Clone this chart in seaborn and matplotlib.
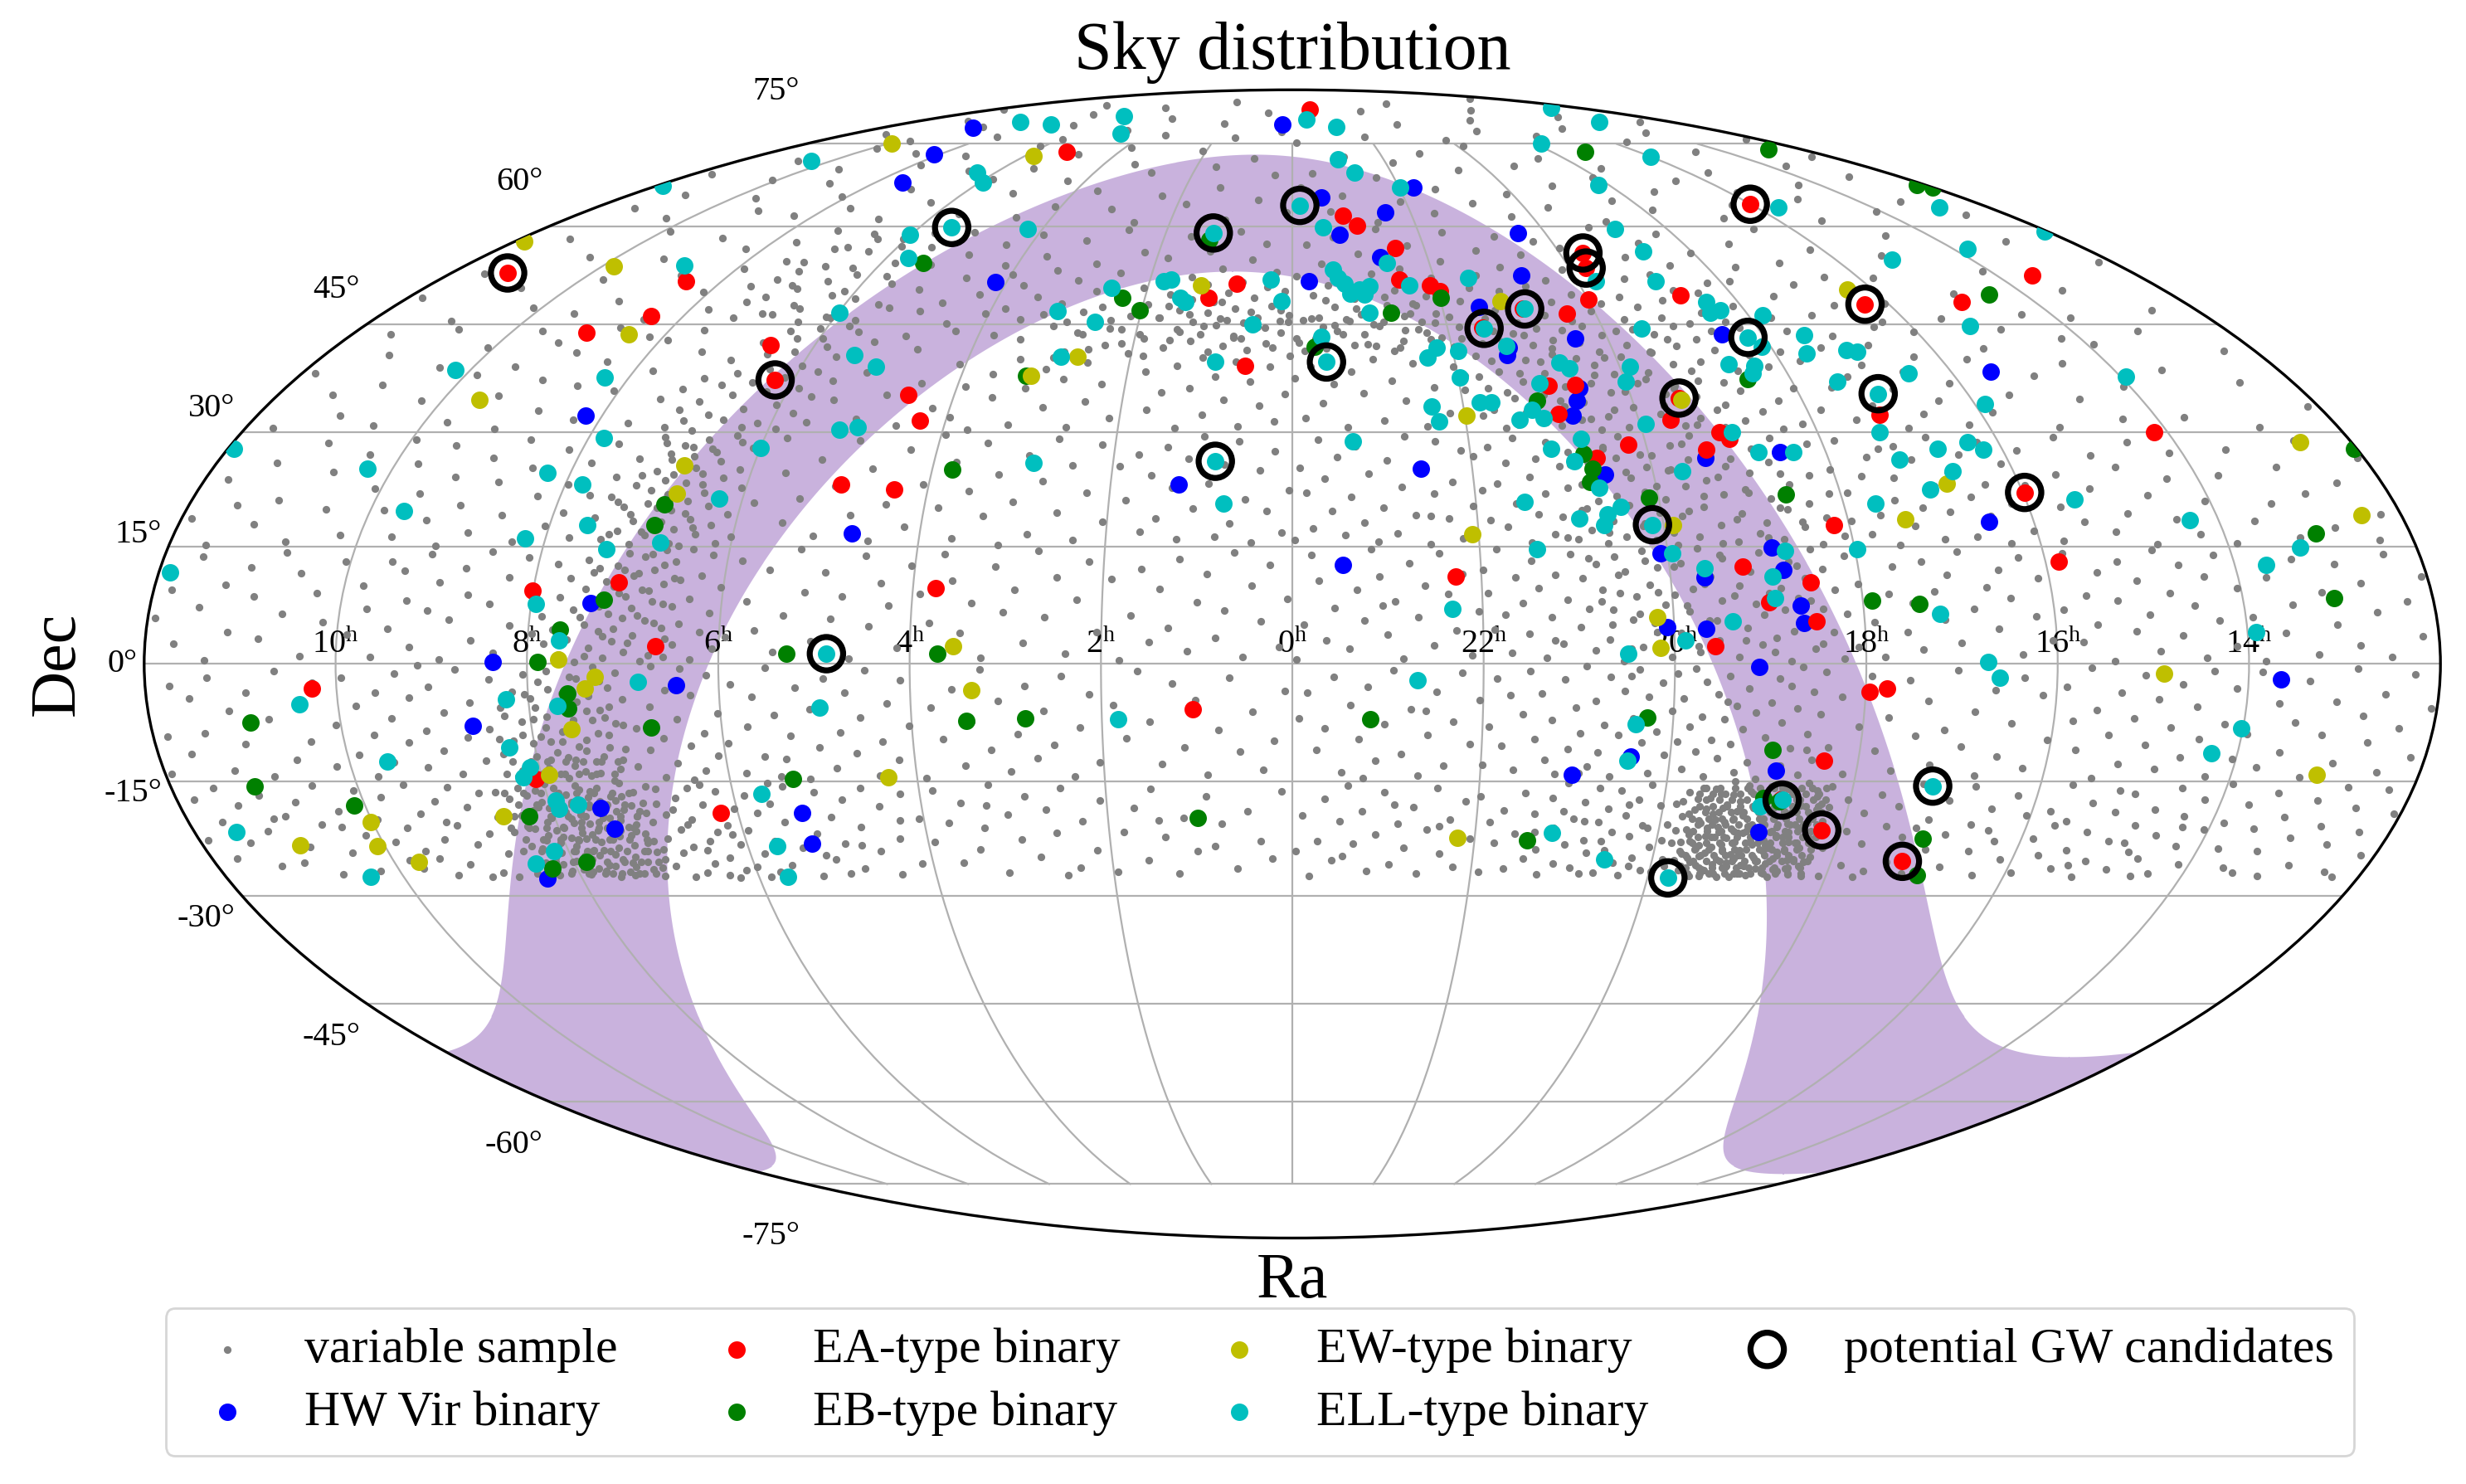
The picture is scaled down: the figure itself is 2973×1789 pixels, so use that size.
import numpy as np
import pandas as pd
import matplotlib
matplotlib.use("Agg")
import matplotlib.pyplot as plt
import seaborn as sns

# All positions are (RA in hours, Dec in degrees).

# --- variable sample (grey dots), split by declination strip ---
sample_dec_m27_m15 = [
    (0.12,-16.3),(0.35,-22.8),(0.48,-18.9),(0.61,-26.4),(0.77,-20.5),(0.93,-16.9),(1.05,-24.1),(1.18,-19.7),(1.27,-27.0),(1.39,-22.2),
    (1.52,-16.0),(1.60,-25.3),(1.71,-18.4),(1.84,-21.6),(1.95,-26.8),(0.22,-25.0),(0.85,-23.4),(1.45,-20.0),
    (2.07,-17.5),(2.15,-23.9),(2.28,-20.1),(2.36,-26.2),(2.49,-15.8),(2.58,-21.7),(2.66,-18.6),(2.79,-24.8),(2.88,-16.9),(2.97,-22.5),
    (3.08,-19.3),(3.17,-26.9),(3.25,-15.4),(3.36,-21.0),(3.44,-23.8),(3.57,-17.8),(3.66,-25.6),(3.74,-20.4),(3.86,-16.2),(3.93,-22.9),
    (2.52,-27.2),(3.30,-18.1),
    (4.05,-19.8),(4.12,-25.7),(4.21,-16.6),(4.30,-22.4),(4.38,-27.1),(4.46,-18.2),(4.55,-24.0),(4.63,-15.9),(4.70,-20.9),(4.78,-26.3),
    (4.85,-17.4),(4.92,-23.1),(5.00,-19.6),(5.07,-25.2),(5.13,-16.4),(5.20,-21.8),(5.27,-27.3),(5.33,-18.8),(5.40,-23.6),(5.46,-15.6),
    (5.52,-20.3),(5.58,-25.9),(5.63,-17.9),(5.69,-22.7),(5.74,-26.8),(5.79,-19.1),(5.84,-24.4),(5.89,-16.8),(5.94,-21.3),(5.98,-26.1),
    (4.26,-20.0),(4.74,-23.3),(5.17,-24.6),(5.61,-15.2),(5.86,-27.4),(4.95,-27.0),
    (6.03,-18.5),(6.07,-23.2),(6.11,-26.6),(6.15,-20.7),(6.19,-16.3),(6.24,-24.9),(6.28,-21.6),(6.32,-27.2),(6.36,-18.0),(6.40,-22.8),
    (6.44,-25.7),(6.48,-15.8),(6.52,-19.9),(6.56,-26.9),(6.60,-23.5),(6.63,-17.1),(6.67,-21.2),(6.71,-27.4),(6.74,-24.3),(6.78,-19.3),
    (6.82,-16.0),(6.85,-22.4),(6.88,-26.0),(6.21,-27.6),(6.46,-23.9),(6.69,-18.6),(6.34,-15.4),(6.58,-20.6),(6.86,-17.9),(6.13,-21.9),
    (6.92,-15.6),(6.95,-20.3),(6.97,-25.1),(7.00,-17.8),(7.02,-22.7),(7.05,-27.3),(7.07,-16.4),(7.10,-19.5),(7.12,-24.0),(7.15,-26.5),
    (7.17,-21.4),(7.20,-15.2),(7.22,-18.6),(7.25,-23.3),(7.27,-27.0),(7.30,-20.0),(7.32,-16.9),(7.35,-25.6),(7.37,-22.1),(7.40,-18.2),
    (7.42,-26.8),(7.45,-15.9),(7.47,-21.0),(7.50,-24.5),(7.52,-19.0),(7.55,-27.4),(7.57,-17.0),(7.60,-22.9),(7.62,-25.9),(7.65,-20.5),
    (7.67,-15.5),(7.70,-18.9),(7.72,-23.9),(7.75,-26.3),(7.77,-21.7),(7.80,-16.7),(7.82,-19.8),(7.85,-24.7),(7.87,-27.1),(7.90,-22.3),
    (7.92,-17.4),(7.95,-20.9),(7.97,-25.4),(8.00,-15.3),(8.02,-18.4),(8.05,-23.0),(8.07,-26.7),(8.10,-20.2),(8.12,-16.2),(8.15,-22.0),
    (8.18,-24.9),(8.20,-18.7),(8.23,-27.2),(8.26,-21.1),(8.29,-15.8),(8.32,-25.6),(8.35,-19.4),(8.38,-23.4),(8.42,-17.2),(8.46,-26.2),
    (8.50,-21.5),(8.55,-16.4),
    (7.03,-24.2),(7.13,-18.1),(7.23,-20.9),(7.33,-26.1),(7.43,-23.6),(7.53,-16.3),(7.63,-27.0),(7.73,-20.2),(7.83,-22.6),(7.93,-26.5),
    (8.03,-21.3),(8.13,-25.8),(8.22,-16.8),(8.33,-20.8),(7.08,-21.8),(7.28,-17.5),(7.48,-19.7),(7.68,-24.6),(7.88,-18.1),(8.08,-17.7),
    (8.28,-23.7),(7.58,-21.3),(7.78,-25.2),(7.98,-19.1),
    (8.62,-19.6),(8.68,-24.4),(8.73,-16.5),(8.79,-21.8),(8.85,-26.9),(8.91,-18.3),(8.97,-23.2),(9.04,-15.7),(9.10,-20.7),(9.17,-25.8),
    (9.23,-17.6),(9.30,-22.5),(9.37,-27.2),(9.44,-19.2),(9.51,-15.4),(9.58,-24.0),(9.65,-21.0),(9.72,-26.4),(9.79,-17.0),(9.86,-22.9),
    (9.93,-19.9),(9.00,-27.5),(8.70,-27.4),(9.47,-25.0),(9.82,-25.3),(9.20,-20.3),
    (10.06,-16.2),(10.15,-22.0),(10.22,-26.7),(10.31,-18.8),(10.40,-24.3),(10.48,-15.5),(10.57,-20.6),(10.66,-27.1),(10.74,-17.7),(10.83,-23.5),
    (10.92,-19.5),(11.01,-25.6),(11.10,-16.8),(11.19,-21.4),(11.28,-26.0),(11.37,-18.1),(11.46,-23.0),(11.55,-15.9),(11.63,-20.2),(11.72,-25.0),
    (11.81,-17.3),(11.90,-22.6),(10.36,-20.9),(11.05,-19.8),
    (12.07,-19.2),(12.16,-24.6),(12.25,-16.1),(12.34,-21.5),(12.43,-26.8),(12.52,-18.4),(12.61,-23.2),(12.70,-15.7),(12.79,-20.8),(12.88,-25.9),
    (12.97,-17.5),(13.06,-22.3),(13.15,-27.3),(13.24,-19.6),(13.33,-24.1),(13.42,-16.5),(13.51,-21.1),(13.60,-26.2),(13.69,-18.0),(13.78,-23.7),
    (13.87,-20.4),(13.95,-15.3),(12.30,-27.5),(13.46,-26.9),
    (14.05,-21.2),(14.12,-25.8),(14.19,-17.3),(14.26,-23.4),(14.33,-19.5),(14.40,-27.0),(14.47,-15.9),(14.54,-22.0),(14.61,-25.0),(14.68,-18.6),
    (14.75,-24.2),(14.82,-20.7),(14.89,-26.5),(14.96,-16.6),(15.03,-22.8),(15.10,-19.0),(15.17,-25.4),(15.24,-27.4),(15.31,-21.6),(15.38,-17.8),
    (15.45,-23.9),(15.52,-26.3),(15.59,-20.1),(15.66,-15.4),(15.73,-24.6),(15.80,-18.9),(15.87,-22.4),(15.94,-26.9),(14.30,-20.9),(14.85,-23.0),
    (15.35,-25.9),(15.70,-20.7),(14.58,-27.3),(15.13,-16.2),
    (16.05,-19.4),(16.13,-25.2),(16.21,-16.8),(16.29,-22.7),(16.37,-27.2),(16.45,-18.5),(16.53,-24.0),(16.61,-20.6),(16.69,-15.6),(16.77,-26.1),
    (16.85,-21.9),(16.93,-17.5),(17.01,-23.8),(17.09,-19.9),(17.17,-27.0),(17.25,-15.3),(17.32,-22.2),(17.39,-25.5),(17.46,-18.2),(17.53,-20.8),
    (17.60,-26.7),(17.67,-16.7),(17.74,-23.1),(17.81,-19.1),(17.88,-25.9),(17.95,-21.4),(18.02,-17.3),(18.09,-27.3),(18.15,-23.6),(17.20,-21.0),
    (16.40,-21.3),(17.70,-27.4),
    (18.22,-15.6),(18.24,-20.1),(18.26,-24.8),(18.28,-27.3),(18.30,-17.9),(18.32,-22.4),(18.35,-26.0),(18.37,-16.2),(18.39,-19.3),(18.41,-23.6),
    (18.44,-27.1),(18.46,-21.0),(18.48,-15.2),(18.50,-25.3),(18.52,-18.1),(18.55,-22.9),(18.57,-26.7),(18.59,-16.8),(18.61,-20.5),(18.64,-24.2),
    (18.66,-27.5),(18.68,-18.8),(18.70,-22.0),(18.73,-25.7),(18.75,-15.9),(18.77,-19.7),(18.79,-23.3),(18.82,-26.4),(18.84,-17.3),(18.86,-21.4),
    (18.88,-24.9),(18.91,-27.2),(18.93,-16.5),(18.95,-19.0),(18.97,-22.7),(19.00,-25.9),(19.02,-18.4),(19.04,-20.8),(19.06,-23.9),(19.09,-27.4),
    (19.11,-15.5),(19.13,-21.7),(19.15,-24.5),(19.18,-17.6),(19.20,-26.2),(19.22,-19.9),(19.24,-22.3),(19.27,-15.0),(19.29,-25.1),(19.31,-18.0),
    (19.33,-27.0),(19.36,-20.9),(19.38,-23.5),(19.40,-16.6),(19.42,-26.5),(19.45,-19.2),(19.47,-22.1),(19.49,-24.7),(19.51,-17.1),(19.54,-27.3),
    (19.56,-20.4),(19.58,-25.5),(19.60,-15.8),(19.63,-22.8),(19.65,-18.6),(19.67,-26.0),(19.70,-21.2),(19.72,-24.0),(19.74,-16.4),(19.77,-19.5),
    (19.80,-27.1),(19.83,-23.0),(19.86,-17.9),(19.89,-25.2),(19.92,-20.6),(19.95,-22.6),(19.98,-26.8),
    (18.25,-22.0),(18.34,-18.6),(18.43,-25.2),(18.53,-20.6),(18.62,-26.5),(18.71,-17.0),(18.80,-24.0),(18.89,-19.8),(18.98,-27.0),(19.07,-21.7),
    (19.16,-26.0),(19.25,-24.0),(19.34,-21.5),(19.43,-27.3),(19.52,-23.3),(19.61,-26.5),(19.69,-24.4),(18.58,-21.6),(18.78,-21.5),(19.10,-25.0),
    (20.03,-18.1),(20.07,-23.5),(20.11,-26.6),(20.15,-15.4),(20.19,-20.7),(20.23,-24.9),(20.27,-17.3),(20.31,-22.1),(20.35,-27.2),(20.39,-19.4),
    (20.43,-25.6),(20.47,-16.2),(20.51,-21.5),(20.55,-23.9),(20.59,-18.5),(20.63,-26.9),(20.67,-20.2),(20.71,-15.8),(20.75,-24.3),(20.80,-22.6),
    (20.85,-17.7),(20.90,-26.2),(20.95,-19.8),(21.00,-23.2),(21.05,-15.2),(21.10,-25.7),(21.15,-21.0),(21.20,-17.1),(21.26,-27.1),(21.32,-23.8),
    (21.38,-19.2),(21.44,-25.0),(21.50,-16.5),(21.57,-21.8),(21.64,-26.4),(21.71,-18.7),(21.78,-23.0),(21.85,-20.3),(21.92,-26.8),(21.98,-16.9),
    (20.13,-21.0),(20.37,-18.0),(20.61,-22.8),(20.83,-20.1),(21.07,-18.8),(20.25,-26.0),(20.79,-27.0),(21.35,-21.5),
    (22.05,-22.4),(22.13,-17.6),(22.21,-26.1),(22.29,-19.9),(22.37,-24.4),(22.45,-15.8),(22.53,-21.2),(22.61,-27.0),(22.69,-18.3),(22.77,-23.6),
    (22.85,-20.5),(22.93,-25.8),(23.01,-16.4),(23.09,-21.9),(23.17,-26.7),(23.25,-18.9),(23.33,-23.1),(23.41,-15.5),(23.49,-20.1),(23.57,-25.3),
    (23.65,-17.2),(23.73,-22.8),(23.81,-27.3),(23.89,-19.4),(23.96,-24.0),(22.40,-20.8),(22.90,-18.0),(23.45,-24.7),
]

sample_dec_m15_0 = [
    (0.08,-3.4),(0.19,-9.8),(0.31,-13.5),(0.42,-6.1),(0.55,-11.2),(0.66,-1.8),(0.78,-8.4),(0.90,-14.1),(1.02,-4.6),(1.14,-10.7),
    (1.26,-2.5),(1.38,-12.8),(1.50,-7.3),(1.62,-0.9),(1.75,-9.5),(1.88,-5.2),
    (2.04,-12.6),(2.13,-3.9),(2.23,-8.1),(2.32,-14.4),(2.42,-1.5),(2.51,-10.3),(2.61,-6.0),(2.70,-12.0),(2.80,-2.8),(2.89,-8.9),
    (2.99,-13.7),(3.08,-4.7),(3.18,-11.0),(3.27,-0.7),(3.37,-7.4),(3.47,-13.0),(3.57,-3.2),(3.68,-9.6),(3.79,-5.5),(3.90,-14.6),
    (4.03,-7.9),(4.10,-2.1),(4.17,-12.3),(4.25,-5.0),(4.32,-9.9),(4.39,-14.2),(4.47,-0.8),(4.54,-6.8),(4.61,-11.4),(4.69,-3.6),
    (4.76,-8.7),(4.84,-13.3),(4.91,-1.9),(4.99,-10.6),(5.06,-5.8),(5.14,-14.7),(5.21,-3.0),(5.29,-9.2),(5.36,-12.1),(5.44,-6.5),
    (5.51,-0.5),(5.59,-11.8),(5.66,-4.2),(5.73,-8.0),(5.81,-13.9),(5.88,-2.6),(5.95,-10.1),(5.45,-14.4),
    (6.03,-6.3),(6.08,-11.7),(6.13,-1.4),(6.19,-8.8),(6.24,-13.6),(6.30,-4.0),(6.35,-10.4),(6.41,-0.6),(6.46,-7.0),(6.52,-12.7),
    (6.57,-3.3),(6.63,-9.5),(6.68,-14.5),(6.74,-5.4),(6.79,-11.0),(6.85,-2.0),(6.90,-8.2),(6.95,-13.1),(6.38,-14.8),(6.71,-0.3),
    (7.02,-4.5),(7.05,-10.9),(7.08,-1.1),(7.11,-7.6),(7.14,-13.4),(7.17,-3.0),(7.20,-9.0),(7.23,-14.9),(7.26,-5.9),(7.29,-11.8),
    (7.32,-0.4),(7.35,-7.1),(7.38,-12.5),(7.41,-2.7),(7.44,-9.7),(7.47,-14.2),(7.50,-4.8),(7.53,-10.5),(7.56,-1.6),(7.59,-7.9),
    (7.62,-13.0),(7.65,-3.8),(7.68,-8.6),(7.71,-14.6),(7.74,-5.2),(7.77,-11.3),(7.80,-0.9),(7.83,-6.7),(7.86,-12.2),(7.89,-2.3),
    (7.92,-9.3),(7.95,-14.0),(7.98,-4.4),(8.01,-10.1),(8.05,-1.3),(8.09,-7.3),(8.13,-12.9),(8.17,-3.5),(8.21,-9.8),(8.25,-14.4),
    (8.30,-5.6),(8.35,-11.5),(8.40,-2.0),(8.45,-8.3),(7.22,-6.8),(7.52,-13.7),(7.82,-9.9),(7.37,-4.1),(7.67,-11.9),(7.97,-7.0),
    (8.55,-12.4),(8.62,-4.9),(8.69,-9.4),(8.76,-0.7),(8.83,-14.0),(8.90,-6.2),(8.97,-11.1),(9.04,-2.9),(9.11,-8.5),(9.18,-13.2),
    (9.25,-4.3),(9.32,-10.0),(9.39,-1.2),(9.46,-6.9),(9.53,-12.6),(9.60,-3.7),(9.67,-9.0),(9.74,-14.3),(9.81,-5.3),(9.88,-11.6),
    (9.95,-1.8),(9.15,-0.2),
    (10.05,-7.8),(10.15,-13.1),(10.25,-2.4),(10.35,-9.9),(10.45,-5.1),(10.55,-12.3),(10.65,-0.9),(10.75,-7.0),(10.85,-14.4),(10.95,-3.6),
    (11.05,-10.2),(11.15,-6.0),(11.25,-13.6),(11.35,-1.7),(11.45,-8.8),(11.55,-4.4),(11.65,-11.5),(11.75,-2.8),(11.85,-9.3),(11.93,-14.0),
    (12.06,-5.7),(12.16,-11.9),(12.26,-1.3),(12.36,-8.2),(12.46,-13.8),(12.56,-3.9),(12.66,-10.0),(12.76,-6.6),(12.86,-0.6),(12.96,-12.7),
    (13.06,-4.8),(13.16,-9.1),(13.26,-14.5),(13.36,-2.2),(13.46,-7.5),(13.56,-11.3),(13.66,-5.0),(13.76,-13.2),(13.86,-1.0),(13.95,-8.9),
    (14.04,-12.1),(14.12,-3.1),(14.20,-7.7),(14.28,-14.3),(14.36,-0.9),(14.44,-9.6),(14.52,-5.4),(14.60,-11.9),(14.68,-2.6),(14.76,-8.1),
    (14.84,-13.4),(14.92,-4.5),(15.00,-10.3),(15.08,-1.4),(15.16,-6.9),(15.24,-12.8),(15.32,-3.7),(15.40,-9.0),(15.48,-14.6),(15.56,-5.9),
    (15.64,-0.5),(15.72,-11.0),(15.80,-7.2),(15.90,-2.9),
    (16.04,-9.7),(16.14,-4.0),(16.24,-13.3),(16.34,-1.8),(16.44,-7.6),(16.54,-11.8),(16.64,-3.3),(16.74,-14.2),(16.84,-6.1),(16.94,-10.5),
    (17.04,-0.8),(17.14,-8.4),(17.24,-12.9),(17.34,-4.7),(17.44,-9.2),(17.54,-2.1),(17.64,-13.6),(17.74,-6.8),(17.84,-11.1),(17.94,-1.5),
    (18.04,-8.0),(18.14,-14.0),(18.24,-4.2),(18.34,-10.6),
    (18.42,-1.0),(18.46,-6.4),(18.50,-12.2),(18.54,-3.5),(18.58,-8.9),(18.62,-14.1),(18.66,-0.4),(18.70,-5.7),(18.74,-10.8),(18.78,-2.8),
    (18.82,-13.0),(18.86,-7.5),(18.90,-1.9),(18.94,-11.5),(18.98,-4.9),(19.02,-9.4),(19.06,-14.7),(19.10,-0.8),(19.14,-6.2),(19.18,-12.6),
    (19.22,-3.1),(19.26,-8.3),(19.30,-13.8),(19.34,-5.3),(19.38,-10.2),(19.42,-1.5),(19.46,-7.0),(19.50,-12.0),(19.54,-3.9),(19.58,-9.7),
    (19.62,-14.4),(19.66,-2.3),(19.70,-6.7),(19.74,-11.2),(19.78,-0.6),(19.82,-8.0),(19.86,-13.4),(19.90,-4.4),(19.94,-9.9),(19.97,-1.2),
    (18.56,-11.0),(19.44,-4.8),
    (20.02,-6.0),(20.07,-11.6),(20.12,-2.4),(20.17,-8.6),(20.22,-13.9),(20.27,-4.2),(20.32,-10.0),(20.37,-0.7),(20.42,-6.9),(20.47,-12.8),
    (20.52,-3.4),(20.57,-9.1),(20.62,-14.3),(20.67,-1.6),(20.72,-7.8),(20.77,-11.3),(20.82,-4.7),(20.87,-13.1),(20.92,-0.3),(20.97,-8.8),
    (21.03,-5.5),(21.09,-10.9),(21.15,-2.0),(21.21,-14.0),(21.27,-7.1),(21.33,-12.3),(21.39,-3.8),(21.45,-9.6),(21.51,-0.9),(21.58,-6.4),
    (21.65,-13.5),(21.72,-4.0),(21.79,-10.4),(21.86,-1.9),(21.93,-8.0),(21.98,-12.9),(20.45,-1.5),(20.95,-13.9),
    (22.04,-4.6),(22.13,-10.2),(22.22,-1.1),(22.31,-7.3),(22.40,-13.0),(22.49,-3.5),(22.58,-9.0),(22.67,-14.2),(22.76,-5.8),(22.85,-11.5),
    (22.94,-0.8),(23.03,-7.7),(23.12,-12.4),(23.21,-2.9),(23.30,-9.6),(23.39,-5.2),(23.48,-13.8),(23.57,-1.6),(23.66,-8.2),(23.75,-11.0),
    (23.84,-3.7),(23.93,-6.9),(22.60,-6.0),(23.25,-14.6),
]

sample_dec_0_15 = [
    (0.05,8.3),(0.14,2.1),(0.24,12.7),(0.33,5.4),(0.43,10.0),(0.52,0.9),(0.62,14.2),(0.71,6.8),(0.81,3.3),(0.90,11.5),
    (1.00,7.9),(1.10,1.6),(1.20,13.4),(1.30,4.6),(1.40,9.6),(1.50,2.8),(1.60,12.1),(1.70,6.2),(1.81,0.5),(1.91,10.8),
    (2.05,4.1),(2.16,13.0),(2.27,8.2),(2.38,1.3),(2.49,11.1),(2.60,5.9),(2.71,14.4),(2.82,2.7),(2.93,9.5),(3.04,6.6),
    (3.15,12.4),(3.26,0.8),(3.37,7.7),(3.48,3.9),(3.59,10.6),(3.70,14.0),(3.81,5.2),(3.92,8.9),
    (4.04,12.6),(4.14,2.0),(4.24,7.4),(4.34,10.3),(4.44,4.8),(4.54,13.8),(4.64,0.7),(4.74,8.6),(4.84,5.7),(4.94,11.7),
    (5.04,2.9),(5.14,9.1),(5.24,14.6),(5.34,6.2),(5.44,1.5),(5.54,12.0),(5.64,4.3),(5.74,8.0),(5.84,13.2),(5.94,3.4),
    (6.03,9.8),(6.07,1.9),(6.12,6.5),(6.16,13.9),(6.21,4.0),(6.25,11.3),(6.30,0.6),(6.34,8.3),(6.39,14.7),(6.43,5.1),
    (6.47,10.7),(6.49,2.5),
    (6.52,7.3),(6.55,13.1),(6.58,0.9),(6.61,4.6),(6.64,10.2),(6.67,14.5),(6.70,2.3),(6.73,8.0),(6.76,12.0),(6.79,5.5),
    (6.82,0.4),(6.85,9.4),(6.88,13.7),(6.91,3.6),(6.94,7.1),(6.97,11.3),(7.00,1.5),(7.03,5.8),(7.06,14.1),(7.09,9.0),
    (7.12,2.9),(7.15,12.6),(7.18,6.4),(7.21,0.8),(7.24,10.5),(7.27,4.2),(7.30,14.8),(7.33,7.9),(7.36,2.0),(7.39,11.7),
    (7.42,5.0),(7.45,9.6),(7.48,13.3),(7.51,0.3),(7.55,6.9),(7.59,3.1),(7.63,10.9),(7.67,1.2),(7.71,8.5),(7.75,4.4),
    (7.79,12.8),(7.83,2.6),(7.87,6.1),(7.92,0.7),(7.96,3.8),
    (8.04,9.3),(8.12,13.6),(8.20,4.9),(8.28,11.0),(8.36,1.4),(8.44,7.6),(8.52,14.3),(8.60,3.0),(8.68,8.8),(8.76,12.2),
    (8.84,5.6),(8.92,0.6),(9.00,10.4),(9.08,6.8),(9.16,14.0),(9.24,2.2),(9.32,8.1),(9.40,11.9),(9.48,4.5),(9.56,13.0),
    (9.64,0.9),(9.72,7.0),(9.80,10.0),(9.90,3.7),
    (10.05,13.1),(10.16,5.3),(10.27,9.0),(10.38,1.0),(10.49,11.6),(10.60,6.4),(10.71,14.2),(10.82,3.2),(10.93,8.6),(11.04,12.3),
    (11.15,4.1),(11.26,10.1),(11.37,0.5),(11.48,7.2),(11.59,13.7),(11.70,2.6),(11.81,9.4),(11.92,5.8),
    (12.06,11.2),(12.17,3.5),(12.28,8.0),(12.39,14.0),(12.50,0.9),(12.61,6.6),(12.72,10.3),(12.83,2.4),(12.94,12.8),(13.05,5.0),
    (13.16,9.1),(13.27,1.2),(13.38,13.4),(13.49,7.5),(13.60,3.9),(13.71,11.0),(13.82,0.4),(13.93,6.0),
    (14.04,9.7),(14.12,2.3),(14.20,13.9),(14.28,5.5),(14.36,11.2),(14.44,0.8),(14.52,7.4),(14.60,12.7),(14.68,3.6),(14.76,9.0),
    (14.84,14.5),(14.92,1.6),(15.00,6.3),(15.08,10.6),(15.16,4.2),(15.24,13.0),(15.32,8.1),(15.40,0.4),(15.48,11.7),(15.56,5.0),
    (15.64,8.7),(15.72,2.8),(15.80,14.1),(15.90,6.9),
    (16.04,3.0),(16.12,10.9),(16.20,6.1),(16.28,13.6),(16.36,1.2),(16.44,8.4),(16.52,12.0),(16.60,4.5),(16.68,9.8),(16.76,0.6),
    (16.84,7.0),(16.92,14.3),(17.00,2.7),(17.08,11.4),(17.16,5.6),(17.24,9.2),(17.32,13.0),(17.40,1.8),(17.48,7.8),(17.56,4.0),
    (17.64,12.4),(17.72,8.9),(17.80,0.9),(17.90,5.3),
    (18.03,10.2),(18.08,2.1),(18.13,13.8),(18.18,6.4),(18.23,0.7),(18.28,9.4),(18.33,4.0),(18.38,12.1),(18.43,7.0),(18.48,14.6),
    (18.53,1.9),(18.58,10.9),(18.63,5.2),(18.68,8.4),(18.73,13.1),(18.78,0.4),(18.83,6.9),(18.88,11.6),(18.93,3.3),(18.98,9.0),
    (19.03,14.2),(19.08,2.5),(19.13,7.6),(19.18,12.5),(19.23,4.6),(19.28,10.0),(19.33,0.9),(19.38,6.0),(19.43,13.5),(19.48,8.1),
    (19.53,3.0),(19.58,11.2),(19.63,5.5),(19.68,14.8),(19.73,1.5),(19.78,9.6),(19.83,6.7),(19.88,12.9),(19.93,3.9),(19.97,8.8),
    (20.03,0.9),(20.08,7.5),(20.13,12.3),(20.18,4.0),(20.23,10.1),(20.28,14.4),(20.33,2.2),(20.38,8.6),(20.43,5.6),(20.48,11.8),
    (20.53,0.4),(20.58,13.7),(20.63,6.9),(20.68,3.1),(20.73,9.5),(20.78,12.8),(20.83,1.7),(20.88,7.0),(20.93,10.9),(20.98,4.7),
    (21.04,14.0),(21.10,8.2),(21.16,2.6),(21.22,11.4),(21.28,5.9),(21.34,0.8),(21.40,9.7),(21.46,13.2),(21.52,3.8),(21.58,7.7),
    (21.64,11.0),(21.70,1.4),(21.76,6.3),(21.82,14.6),(21.88,4.4),(21.94,9.0),(21.98,12.0),(20.55,9.0),(21.25,3.0),(20.20,5.2),
    (22.04,6.7),(22.12,1.1),(22.20,11.5),(22.28,4.3),(22.36,8.9),(22.44,14.1),(22.52,2.4),(22.60,10.0),(22.68,6.0),(22.76,12.9),
    (22.84,0.7),(22.92,8.0),(23.00,3.7),(23.08,11.2),(23.16,14.7),(23.24,5.5),(23.32,9.4),(23.40,1.9),(23.48,12.3),(23.56,7.1),
    (23.64,3.0),(23.72,10.6),(23.80,13.9),(23.88,5.0),(23.96,0.6),(23.05,7.4),
]

sample_dec_15_30 = [
    (0.04,22.3),(0.12,16.8),(0.20,27.4),(0.28,19.6),(0.36,24.9),(0.44,15.5),(0.52,21.1),(0.60,28.8),(0.68,18.0),(0.76,25.7),
    (0.84,16.3),(0.92,23.2),(1.00,29.4),(1.08,19.9),(1.16,26.4),(1.24,15.9),(1.32,22.6),(1.40,28.0),(1.48,18.6),(1.56,24.3),
    (1.64,16.9),(1.72,27.0),(1.82,21.0),(1.92,25.4),
    (2.05,18.2),(2.15,28.3),(2.25,22.0),(2.35,15.8),(2.45,25.6),(2.55,19.4),(2.65,29.1),(2.75,23.5),(2.85,16.6),(2.95,26.9),
    (3.05,20.8),(3.15,15.2),(3.25,24.4),(3.35,18.9),(3.45,28.5),(3.55,22.2),(3.65,16.0),(3.75,26.0),(3.85,20.0),(3.95,29.6),
    (4.06,23.0),(4.18,17.5),(4.30,27.6),(4.42,20.4),(4.54,15.7),(4.66,25.1),(4.78,19.0),(4.90,28.9),(5.02,22.8),(5.14,16.4),
    (5.26,26.3),(5.38,21.2),(5.50,18.1),(5.62,24.6),(5.74,29.2),(5.86,20.7),
    (6.02,16.2),(6.05,22.6),(6.08,27.9),(6.11,19.1),(6.14,25.0),(6.17,15.4),(6.20,21.3),(6.23,28.6),(6.26,17.8),(6.29,23.9),
    (6.32,29.5),(6.35,20.2),(6.38,26.1),(6.41,16.6),(6.44,22.0),(6.47,27.3),(6.50,18.5),(6.53,24.5),(6.56,15.1),(6.59,20.9),
    (6.62,29.0),(6.65,17.2),(6.68,23.3),(6.71,26.8),(6.74,19.7),(6.77,15.8),(6.80,25.5),(6.83,21.7),(6.86,28.2),(6.89,18.0),
    (6.92,23.6),(6.95,16.5),(6.98,27.1),(7.01,20.5),(7.05,24.8),(7.09,15.3),(7.13,29.3),(7.17,19.2),(7.21,22.9),(7.25,17.0),
    (7.30,26.4),(7.35,20.8),(7.41,15.9),(7.47,24.0),(7.54,18.7),
    (7.62,28.4),(7.68,21.6),(7.75,16.1),(7.82,25.9),(7.90,19.4),(7.97,23.1),
    (8.05,17.6),(8.15,27.7),(8.25,21.5),(8.35,15.6),(8.45,25.2),(8.55,19.0),(8.65,29.0),(8.75,23.4),(8.85,16.8),(8.95,26.6),
    (9.05,20.3),(9.15,15.1),(9.25,24.0),(9.35,18.4),(9.45,28.2),(9.55,21.9),(9.65,16.2),(9.75,25.8),(9.85,19.7),(9.95,29.0),
    (10.07,22.5),(10.21,16.5),(10.35,27.0),(10.49,19.8),(10.63,24.7),(10.77,15.6),(10.91,28.5),(11.05,21.0),(11.19,17.9),(11.33,25.9),
    (11.47,20.3),(11.61,15.2),(11.75,23.7),(11.89,18.6),
    (12.08,26.5),(12.22,19.2),(12.36,15.8),(12.50,23.3),(12.64,28.9),(12.78,17.4),(12.92,21.8),(13.06,25.3),(13.20,16.1),(13.34,20.6),
    (13.48,27.7),(13.62,18.3),(13.76,24.2),(13.90,15.4),
    (14.05,20.9),(14.15,27.2),(14.25,16.6),(14.35,23.8),(14.45,18.5),(14.55,28.6),(14.65,21.6),(14.75,15.3),(14.85,25.3),(14.95,19.3),
    (15.05,26.9),(15.15,16.9),(15.25,22.5),(15.35,29.3),(15.45,18.2),(15.55,24.4),(15.65,20.1),(15.75,15.7),(15.85,27.5),(15.95,22.9),
    (16.03,17.0),(16.10,25.8),(16.17,20.6),(16.24,28.7),(16.31,15.4),(16.38,23.1),(16.45,18.9),(16.52,27.0),(16.59,21.4),(16.66,16.2),
    (16.73,24.7),(16.80,29.3),(16.87,19.5),(16.94,22.8),(17.01,15.9),(17.08,26.3),(17.15,20.0),(17.22,28.1),(17.29,17.6),(17.36,23.9),
    (17.43,21.0),(17.50,15.2),(17.57,26.7),(17.64,19.0),(17.71,24.1),(17.78,16.6),(17.85,28.9),(17.92,22.0),(17.97,18.3),(17.40,27.8),
    (18.03,25.0),(18.08,16.4),(18.13,21.8),(18.18,28.4),(18.23,18.7),(18.28,24.2),(18.33,15.3),(18.38,20.5),(18.43,27.1),(18.48,17.5),
    (18.53,23.0),(18.58,29.2),(18.63,19.8),(18.68,26.0),(18.73,15.9),(18.78,21.2),(18.83,27.8),(18.88,18.1),(18.93,24.6),(18.98,16.7),
    (19.03,22.4),(19.08,28.9),(19.13,19.3),(19.18,25.5),(19.23,15.6),(19.28,21.7),(19.33,27.4),(19.38,17.8),(19.43,23.6),(19.48,29.5),
    (19.53,20.1),(19.58,26.3),(19.63,16.3),(19.68,22.8),(19.73,28.2),(19.78,18.9),(19.83,24.9),(19.88,15.2),(19.93,21.1),(19.97,26.9),
    (20.02,19.4),(20.06,25.3),(20.10,15.8),(20.14,22.1),(20.18,28.5),(20.22,17.6),(20.26,23.9),(20.30,29.4),(20.34,20.3),(20.38,26.6),
    (20.42,16.2),(20.46,21.5),(20.50,27.8),(20.54,18.3),(20.58,24.3),(20.62,15.4),(20.66,20.9),(20.70,26.0),(20.74,29.0),(20.78,17.1),
    (20.82,23.0),(20.86,19.7),(20.90,27.3),(20.94,15.9),(20.98,22.6),(21.03,25.4),(21.08,18.8),(21.13,28.7),(21.18,16.6),(21.23,21.8),
    (21.28,26.4),(21.33,19.1),(21.38,24.0),(21.44,15.5),(21.50,29.2),(21.56,20.6),(21.62,25.9),(21.68,17.5),(21.74,23.2),(21.80,28.0),
    (21.86,18.4),(21.92,22.3),(21.97,26.8),(21.05,16.1),
    (22.03,20.2),(22.10,27.5),(22.17,16.0),(22.24,23.4),(22.31,18.6),(22.38,28.8),(22.45,21.9),(22.52,15.3),(22.59,25.6),(22.66,19.0),
    (22.73,29.4),(22.80,22.7),(22.87,16.7),(22.94,26.2),(23.01,20.0),(23.08,15.6),(23.15,24.5),(23.22,18.1),(23.29,28.1),(23.36,21.4),
    (23.43,16.5),(23.50,26.7),(23.57,19.6),(23.64,23.8),(23.71,29.0),(23.78,17.3),(23.85,22.0),(23.92,25.2),(23.97,15.8),(22.50,18.9),
]

sample_dec_30_45 = [
    (0.03,40.5),(0.09,35.2),(0.15,43.8),(0.21,31.4),(0.27,38.9),(0.33,42.2),(0.39,33.6),(0.45,44.6),(0.51,36.9),(0.57,41.3),
    (0.63,30.8),(0.69,39.7),(0.75,43.1),(0.81,34.4),(0.87,41.9),(0.93,37.6),(0.99,44.9),(1.05,32.3),(1.11,40.2),(1.17,43.5),
    (1.23,36.0),(1.29,42.6),(1.35,30.5),(1.41,39.1),(1.48,44.2),(1.55,35.4),(1.62,41.6),(1.70,33.0),(1.78,38.3),(1.88,43.0),
    (2.04,40.8),(2.12,31.9),(2.20,44.3),(2.28,36.5),(2.36,42.0),(2.44,34.1),(2.52,39.5),(2.60,30.6),(2.68,43.6),(2.76,37.2),
    (2.84,41.0),(2.92,33.3),(3.00,38.6),(3.09,44.8),(3.18,35.9),(3.27,31.0),(3.36,40.0),(3.45,42.8),(3.54,34.7),(3.63,37.9),
    (3.72,30.3),(3.81,43.4),(3.90,36.2),(3.97,32.0),
    (4.08,39.3),(4.20,33.2),(4.32,44.0),(4.44,36.6),(4.56,30.9),(4.68,41.4),(4.80,35.0),(4.92,43.3),(5.04,31.8),(5.16,38.1),
    (5.28,42.5),(5.40,34.4),
    (5.52,37.0),(5.56,43.9),(5.60,31.3),(5.64,40.3),(5.68,34.8),(5.72,44.7),(5.76,38.2),(5.80,32.5),(5.84,41.8),(5.88,36.0),
    (5.92,30.4),(5.96,43.0),(6.00,39.1),(6.04,33.7),(6.08,44.4),(6.12,37.4),(6.16,31.2),(6.20,41.1),(6.24,35.5),(6.28,42.9),
    (6.32,30.7),(6.36,38.6),(6.40,33.1),(6.44,44.0),(6.48,36.8),(6.52,40.7),(6.57,31.7),(6.62,35.0),(6.67,42.3),(6.72,38.0),
    (6.77,32.3),(6.82,36.4),(6.87,30.2),(6.92,39.9),(6.97,34.1),(7.02,31.5),(7.08,37.3),(7.14,33.0),(7.20,30.6),(7.26,35.8),
    (7.35,41.0),(7.45,34.5),(7.55,44.1),(7.65,31.2),(7.78,38.4),(7.90,42.7),
    (8.06,35.6),(8.18,43.2),(8.30,31.6),(8.42,39.6),(8.54,36.3),(8.66,44.5),(8.78,32.9),(8.90,40.9),(9.02,37.1),(9.14,30.4),
    (9.26,42.4),(9.38,34.9),(9.50,39.0),(9.62,44.0),(9.74,31.3),(9.86,37.8),
    (10.08,41.7),(10.24,34.2),(10.40,38.8),(10.56,30.9),(10.72,44.2),(10.88,36.4),(11.04,32.2),(11.20,40.6),(11.36,35.1),(11.52,43.6),
    (11.68,30.5),(11.84,38.0),
    (12.12,33.5),(12.38,41.2),(12.64,36.8),(12.90,30.7),(13.16,44.0),(13.42,38.5),(13.68,32.0),(13.92,42.1),
    (14.08,36.2),(14.24,43.0),(14.40,31.8),(14.56,39.4),(14.72,34.5),(14.88,44.3),(15.04,37.7),(15.20,30.6),(15.36,41.5),(15.52,35.0),
    (15.68,40.0),(15.86,32.7),
    (16.04,43.9),(16.13,36.7),(16.22,31.0),(16.31,40.4),(16.40,34.3),(16.49,44.6),(16.58,38.3),(16.67,32.4),(16.76,42.0),(16.85,35.8),
    (16.94,30.5),(17.03,39.2),(17.12,43.3),(17.21,33.6),(17.30,37.6),(17.39,41.6),(17.48,31.7),(17.57,36.1),(17.66,44.0),(17.75,39.8),
    (17.84,33.0),(17.93,41.0),
    (18.03,36.0),(18.08,42.5),(18.13,31.1),(18.18,39.0),(18.23,44.5),(18.28,34.3),(18.33,40.6),(18.38,30.4),(18.43,37.5),(18.48,43.2),
    (18.53,32.8),(18.58,38.4),(18.63,44.0),(18.68,35.6),(18.73,41.3),(18.78,31.5),(18.83,36.8),(18.88,42.8),(18.93,33.7),(18.98,39.7),
    (19.03,30.6),(19.08,44.7),(19.13,37.0),(19.18,41.9),(19.23,34.8),(19.28,31.9),(19.33,39.3),(19.38,43.6),(19.43,36.3),(19.48,30.9),
    (19.53,40.9),(19.58,35.2),(19.63,44.2),(19.68,38.1),(19.73,32.4),(19.80,42.0),(19.87,36.6),(19.94,40.3),
    (20.02,33.3),(20.06,43.4),(20.10,37.9),(20.14,30.7),(20.18,41.1),(20.22,35.4),(20.26,44.8),(20.30,39.2),(20.34,32.1),(20.38,42.3),
    (20.42,36.7),(20.46,30.3),(20.50,40.1),(20.54,44.1),(20.58,34.0),(20.62,38.7),(20.66,31.6),(20.70,42.7),(20.74,36.2),(20.78,40.7),
    (20.82,33.5),(20.86,44.4),(20.90,30.9),(20.94,38.0),(20.98,42.0),(21.03,35.0),(21.08,31.3),(21.13,39.9),(21.18,43.7),(21.23,36.9),
    (21.28,32.7),(21.33,41.5),(21.38,34.6),(21.43,44.0),(21.49,38.3),(21.55,30.5),(21.61,42.2),(21.67,35.9),(21.73,40.5),(21.79,32.2),
    (21.85,44.6),(21.91,37.7),(21.97,41.8),(21.40,31.0),
    (22.03,38.9),(22.10,43.1),(22.17,32.6),(22.24,40.8),(22.31,36.1),(22.38,44.3),(22.45,30.8),(22.52,39.4),(22.59,42.6),(22.66,34.2),
    (22.73,41.2),(22.80,37.0),(22.87,44.8),(22.94,31.5),(23.01,40.0),(23.08,43.5),(23.15,35.3),(23.22,42.0),(23.29,38.2),(23.36,30.6),
    (23.43,44.0),(23.50,36.5),(23.57,41.5),(23.64,33.9),(23.71,43.0),(23.78,39.0),(23.85,31.9),(23.92,42.4),(23.97,37.3),(22.95,41.9),
    (23.60,44.6),(22.28,43.8),
]

sample_dec_45_60 = [
    (0.04,46.3),(0.10,49.8),(0.16,45.5),(0.22,52.7),(0.28,47.6),(0.34,50.5),(0.40,57.2),(0.46,46.0),(0.52,48.9),(0.58,54.6),
    (0.64,45.2),(0.70,51.2),(0.76,47.3),(0.82,59.1),(0.88,49.6),(0.94,45.8),(1.00,53.3),(1.06,48.2),(1.12,46.7),(1.18,50.9),
    (1.24,56.0),(1.30,45.4),(1.36,48.6),(1.42,52.0),(1.50,47.0),(1.58,58.3),(1.66,49.3),(1.74,45.9),(1.84,54.9),(1.94,47.9),
    (2.05,50.3),(2.13,46.2),(2.21,55.8),(2.29,48.4),(2.37,45.6),(2.45,52.6),(2.53,47.5),(2.61,59.4),(2.69,49.9),(2.77,46.8),
    (2.85,54.0),(2.93,45.3),(3.01,51.5),(3.10,48.0),(3.19,57.7),(3.28,46.4),(3.37,53.0),(3.46,49.0),(3.55,45.7),(3.64,55.2),
    (3.73,50.7),(3.82,47.2),(3.91,58.6),(3.97,52.3),
    (4.05,46.5),(4.16,53.7),(4.27,49.4),(4.38,57.0),(4.49,45.1),(4.60,51.8),(4.71,48.1),(4.82,55.5),(4.93,46.9),(5.04,59.0),
    (5.15,50.1),(5.26,53.9),(5.37,47.4),(5.48,56.6),(5.59,51.0),(5.70,45.6),(5.81,54.2),(5.92,48.7),
    (6.04,57.9),(6.12,46.1),(6.20,52.4),(6.28,49.2),(6.36,55.9),(6.44,45.4),(6.52,51.4),(6.60,58.8),(6.68,47.8),(6.76,53.6),
    (6.84,50.2),(6.92,56.3),(7.00,46.6),(7.08,52.9),(7.16,49.0),(7.24,59.3),(7.32,45.9),(7.42,54.4),(7.52,50.6),(7.64,57.4),
    (7.76,47.1),(7.90,53.2),
    (8.08,49.7),(8.28,56.4),(8.48,45.7),(8.68,52.2),(8.88,58.1),(9.08,48.3),(9.28,54.8),(9.48,46.6),(9.70,51.6),(9.90,59.2),
    (10.12,47.4),(10.40,55.0),(10.68,50.4),(10.96,45.5),(11.24,58.0),(11.52,52.5),(11.80,48.8),
    (12.20,54.3),(12.60,47.0),(13.00,57.5),(13.40,50.0),(13.80,46.0),
    (14.12,52.8),(14.40,46.4),(14.68,58.5),(14.96,49.5),(15.24,55.3),(15.52,45.8),(15.80,51.9),
    (16.05,48.0),(16.19,56.2),(16.33,45.3),(16.47,52.0),(16.61,59.6),(16.75,47.7),(16.89,54.1),(17.03,50.8),(17.17,46.3),(17.31,57.1),
    (17.45,49.1),(17.59,53.5),(17.73,45.9),(17.87,51.3),
    (18.04,55.7),(18.12,47.6),(18.20,51.1),(18.28,58.7),(18.36,45.4),(18.44,49.6),(18.52,53.8),(18.60,46.7),(18.68,57.3),(18.76,50.0),
    (18.84,45.1),(18.92,52.3),(19.00,48.5),(19.08,55.0),(19.16,46.0),(19.24,59.8),(19.32,51.7),(19.40,47.5),(19.48,54.5),(19.56,49.0),
    (19.66,45.7),(19.76,52.9),(19.86,48.0),(19.95,56.5),
    (20.04,46.9),(20.12,53.1),(20.20,49.3),(20.28,57.6),(20.36,45.5),(20.44,51.5),(20.52,48.2),(20.60,55.4),(20.68,46.3),(20.76,50.6),
    (20.84,58.4),(20.92,47.4),(21.00,53.5),(21.08,45.2),(21.16,49.8),(21.24,56.1),(21.32,47.0),(21.40,52.2),(21.48,45.8),(21.56,50.3),
    (21.64,59.0),(21.74,48.4),(21.84,54.4),(21.94,46.1),
    (22.04,51.8),(22.11,46.5),(22.18,49.1),(22.25,56.9),(22.32,45.3),(22.39,48.0),(22.46,53.2),(22.53,46.2),(22.60,50.0),(22.67,59.5),
    (22.74,47.7),(22.81,45.4),(22.88,52.5),(22.95,49.5),(23.02,55.6),(23.09,46.4),(23.16,48.7),(23.23,51.0),(23.30,45.7),(23.37,58.2),
    (23.44,47.5),(23.51,50.7),(23.58,54.0),(23.65,46.0),(23.72,49.2),(23.79,57.0),(23.86,45.6),(23.94,52.1),
]

sample_dec_60_90 = [
    (0.10,62.3),(0.35,68.9),(0.60,64.5),(0.85,72.1),(1.10,61.0),(1.35,66.7),(1.60,70.4),(1.85,63.8),
    (2.10,73.6),(2.35,65.2),(2.60,60.7),(2.85,69.3),(3.10,62.9),(3.35,71.0),(3.60,66.0),(3.85,74.2),
    (4.10,63.3),(4.35,67.9),(4.60,61.5),(4.85,72.8),(5.10,65.6),(5.35,70.1),(5.60,62.0),(5.85,68.2),
    (6.10,74.5),(6.35,64.0),(6.60,69.7),(6.85,61.2),(7.10,66.4),(7.35,72.6),(7.60,63.0),(7.85,70.8),
    (8.10,65.0),(8.35,61.8),(8.60,73.0),(8.85,67.4),(9.10,62.6),(9.35,70.0),(9.60,64.8),(9.85,74.0),
    (10.10,68.0),(10.40,61.4),(10.70,71.5),(11.00,65.3),(11.30,63.0),(11.60,69.0),
    (12.10,66.2),(12.40,72.4),(12.70,61.9),(13.00,68.6),(13.30,64.1),(13.60,70.7),
    (14.10,62.4),(14.40,67.1),(14.70,73.3),(15.00,64.6),(15.30,60.9),(15.60,69.4),(15.85,65.8),
    (16.10,71.9),(16.35,63.6),(16.60,67.8),(16.85,61.3),(17.10,74.0),(17.35,65.9),(17.60,70.2),(17.85,62.8),
    (18.10,68.4),(18.35,64.3),(18.60,72.0),(18.85,60.8),(19.10,66.9),(19.35,70.6),(19.60,63.1),(19.85,74.6),
    (20.10,65.5),(20.35,61.6),(20.60,69.9),(20.85,63.9),(21.10,73.1),(21.35,66.3),(21.60,62.2),(21.85,71.2),
    (22.10,64.2),(22.35,68.5),(22.60,60.6),(22.85,72.3),(23.10,65.1),(23.35,62.5),(23.60,69.2),(23.85,66.6),
    (0.3,77.5),(0.9,82.1),(1.5,76.2),(2.1,79.4),(2.8,85.0),(3.4,76.8),(4.0,80.6),(4.7,78.0),(5.3,83.3),(5.9,75.9),
    (6.6,79.0),(7.2,81.7),(7.8,76.5),(8.5,84.2),(9.1,78.6),(9.7,75.6),(10.4,80.0),(11.0,77.0),(11.7,83.0),(12.3,76.0),
    (13.0,79.8),(13.6,86.0),(14.3,77.3),(14.9,81.0),(15.6,75.4),(16.2,78.3),(16.9,82.8),(17.5,76.7),(18.2,80.3),(18.8,77.8),
    (19.5,84.6),(20.1,75.7),(20.8,79.2),(21.4,82.4),(22.1,76.4),(22.7,78.9),(23.4,81.3),(23.9,75.2),
]

# crowded parts of the Galactic plane (bulge, Puppis/Monoceros, Aquila/Cygnus, Cassiopeia rim)
sample_plane_crowded = [
    (18.21,-18.3),(18.27,-21.4),(18.31,-25.5),(18.36,-16.9),(18.40,-20.4),(18.45,-23.0),(18.49,-26.3),(18.54,-17.4),(18.56,-24.0),(18.60,-19.1),
    (18.63,-22.2),(18.67,-25.0),(18.69,-16.0),(18.72,-20.9),(18.74,-26.9),(18.76,-23.6),(18.81,-18.4),(18.83,-22.6),(18.85,-25.4),(18.87,-15.6),
    (18.90,-20.1),(18.94,-23.2),(18.96,-26.0),(18.99,-17.8),(19.01,-21.0),(19.03,-24.6),(19.05,-27.0),(19.08,-16.3),(19.12,-19.4),(19.14,-22.9),
    (19.17,-25.6),(19.19,-18.8),(19.21,-21.1),(19.23,-27.4),(19.26,-16.7),(19.28,-23.2),(19.30,-20.3),(19.32,-25.8),(19.35,-18.4),(19.37,-22.2),
    (19.39,-26.6),(19.41,-19.9),(19.44,-24.3),(19.46,-16.0),(19.48,-21.0),(19.50,-25.9),(19.53,-18.5),(19.55,-23.7),(19.57,-27.0),(19.59,-20.0),
    (19.62,-24.9),(19.64,-17.2),(19.66,-21.9),(19.68,-26.6),(19.71,-19.2),(19.73,-22.9),(19.76,-25.3),(19.79,-17.6),(19.82,-21.3),(19.85,-26.0),
    (6.94,-23.8),(6.99,-19.1),(7.04,-26.2),(7.06,-18.9),(7.09,-23.0),(7.14,-20.6),(7.18,-25.5),(7.21,-16.9),(7.24,-22.0),(7.29,-24.8),
    (7.31,-18.8),(7.34,-21.3),(7.38,-27.2),(7.41,-19.7),(7.44,-25.2),(7.46,-17.6),(7.49,-22.5),(7.54,-20.3),(7.56,-26.0),(7.59,-18.3),
    (7.61,-23.9),(7.64,-16.1),(7.66,-21.9),(7.69,-26.7),(7.71,-19.3),(7.74,-22.4),(7.76,-17.7),(7.79,-24.0),(7.81,-20.4),(7.84,-26.8),
    (7.86,-19.0),(7.89,-23.4),(7.91,-15.9),(7.94,-24.1),(7.99,-22.2),(8.04,-19.7),(8.09,-24.3),(8.14,-18.3),(8.19,-22.6),(8.24,-19.5),
    (7.04,-7.8),(7.10,-12.3),(7.16,-5.4),(7.21,-10.7),(7.25,-2.2),(7.31,-8.8),(7.36,-13.9),(7.40,-6.0),(7.46,-11.1),(7.49,-1.9),
    (7.55,-7.1),(7.60,-12.2),(7.64,-4.5),(7.70,-9.9),(7.75,-14.0),(7.79,-3.2),(7.85,-8.1),(7.90,-13.3),(7.94,-5.6),(8.00,-11.8),
    (8.04,-3.9),(8.11,-9.0),(8.19,-13.6),(8.27,-6.6),(8.36,-9.6),
    (6.53,10.9),(6.57,3.2),(6.62,7.6),(6.66,12.7),(6.69,5.2),(6.74,1.1),(6.78,9.3),(6.81,14.0),(6.87,6.2),(6.92,11.6),
    (6.96,2.7),(7.02,8.6),(7.07,12.0),(7.11,4.5),(7.16,9.9),(7.22,3.5),(7.28,7.3),(7.34,12.2),(7.40,1.0),(7.47,6.0),
    (6.45,17.4),(6.49,23.0),(6.54,27.8),(6.58,19.3),(6.63,25.2),(6.67,15.4),(6.72,21.6),(6.76,28.0),(6.81,18.2),(6.85,24.4),
    (6.90,20.0),(6.94,26.3),(6.99,16.9),(7.03,22.3),(7.08,28.5),(7.12,18.3),(7.19,24.2),(7.26,20.1),(7.33,16.6),(7.44,21.4),
    (18.45,2.6),(18.55,8.1),(18.65,12.6),(18.75,4.2),(18.85,9.7),(18.95,1.5),(19.05,6.3),(19.15,11.8),(19.25,3.0),(19.35,8.7),
    (19.45,13.9),(19.55,5.5),(19.65,10.2),(19.75,2.3),(19.85,7.4),(19.95,12.4),(20.05,4.4),(20.15,9.1),(20.25,13.2),(20.35,6.4),
    (20.45,1.9),(20.55,11.4),(20.65,5.0),(20.75,8.0),(20.85,13.5),(18.50,18.2),(18.60,24.5),(18.70,20.0),(18.80,27.2),(18.90,16.1),
    (19.00,22.0),(19.10,26.4),(19.20,18.5),(19.30,24.0),(19.40,15.4),(19.50,21.5),(19.60,28.4),(19.70,19.6),(19.80,25.0),(19.90,16.8),
    (20.00,22.8),(20.10,27.0),(20.20,18.0),(20.30,24.7),(20.40,20.4),(20.50,28.0),(20.60,16.8),(20.70,23.4),(20.80,19.9),(20.90,25.7),
    (19.05,33.0),(19.15,38.4),(19.25,42.8),(19.35,31.0),(19.45,36.0),(19.55,41.0),(19.65,33.6),(19.75,37.2),(19.85,44.0),(19.95,31.6),
    (20.05,35.5),(20.15,40.2),(20.25,33.0),(20.35,37.8),(20.45,43.0),(20.55,31.8),(20.65,36.0),(20.75,41.5),(20.85,34.2),(20.95,39.6),
    (21.05,43.4),(21.15,33.4),(21.25,38.0),(21.35,42.5),(21.45,35.4),(21.55,39.8),(21.65,33.0),(21.75,37.6),(21.85,42.9),(21.95,35.7),
    (22.15,45.2),(22.35,47.8),(22.55,44.1),(22.75,49.0),(22.95,45.0),(23.15,47.3),(23.35,43.6),(23.55,48.5),(23.75,45.8),(23.95,43.0),
    (0.15,47.0),(0.35,44.5),(0.55,46.8),(0.75,43.3),(0.95,48.2),(1.15,44.8),(1.35,46.4),(1.55,42.7),(1.75,45.9),(1.95,43.5),
    (2.15,42.2),(2.35,44.4),(2.55,41.4),(2.75,43.8),(2.95,40.2),(22.25,42.8),(22.65,41.6),(23.05,42.1),(23.45,44.9),(23.85,41.2),
    (0.25,41.6),(0.65,42.9),(1.05,41.0),(1.45,43.9),(1.85,40.5),(22.45,46.5),(23.25,45.5),(0.05,45.3),(0.85,45.6),(1.65,47.6),
    (5.55,47.9),(5.75,52.1),(5.95,56.8),(6.15,49.8),(6.35,53.4),(6.55,47.2),(6.75,56.6),(6.95,50.7),(7.15,54.3),(7.35,48.2),
    (5.65,58.9),(6.05,45.9),(6.45,58.0),(6.85,46.4),(7.25,51.6),
]

# the two nearly solid clumps: Galactic bulge edge (RA ~18-20h) and Puppis (RA ~7-8.5h)
bulge_rows = {
    -15.8: [18.28,18.43,18.55,18.71,18.84,18.99,19.13,19.26,19.42,19.57],
    -16.6: [18.35,18.49,18.63,18.77,18.92,19.05,19.19,19.35,19.49,19.63],
    -17.4: [18.26,18.40,18.57,18.69,18.82,18.97,19.11,19.27,19.40,19.55],
    -18.2: [18.33,18.46,18.60,18.75,18.90,19.03,19.17,19.31,19.46,19.61],
    -19.0: [18.27,18.42,18.54,18.68,18.83,18.96,19.12,19.25,19.39,19.53],
    -19.8: [18.36,18.50,18.64,18.78,18.93,19.07,19.21,19.34,19.48,19.66],
    -20.6: [18.29,18.44,18.58,18.72,18.86,19.00,19.14,19.29,19.43,19.58],
    -21.4: [18.34,18.48,18.62,18.76,18.89,19.04,19.18,19.32,19.47,19.62],
    -22.2: [18.26,18.41,18.56,18.70,18.85,18.98,19.13,19.27,19.41,19.55],
    -23.0: [18.32,18.47,18.61,18.74,18.88,19.02,19.16,19.30,19.45,19.60],
    -23.8: [18.28,18.43,18.57,18.71,18.84,18.99,19.12,19.26,19.40,19.56],
    -24.6: [18.35,18.50,18.63,18.77,18.91,19.06,19.20,19.33,19.48,19.64],
    -25.4: [18.27,18.42,18.55,18.69,18.83,18.97,19.11,19.25,19.39,19.54],
    -26.2: [18.33,18.47,18.61,18.75,18.90,19.04,19.17,19.31,19.46,19.61],
    -27.0: [18.29,18.44,18.58,18.72,18.86,19.01,19.15,19.28,19.43,19.58],
}
puppis_rows = {
    -12.5: [7.15,7.33,7.52,7.71,7.90,8.08,8.27],
    -14.0: [7.22,7.41,7.60,7.79,7.98,8.17,8.36],
    -16.5: [7.12,7.30,7.49,7.68,7.87,8.06,8.25,8.45],
    -18.0: [7.20,7.39,7.58,7.77,7.96,8.15,8.34],
    -19.5: [7.10,7.28,7.47,7.66,7.85,8.04,8.23,8.43],
    -21.0: [7.18,7.37,7.56,7.75,7.94,8.13,8.32,8.52],
    -22.5: [7.08,7.27,7.46,7.65,7.84,8.03,8.22,8.41],
    -24.0: [7.16,7.35,7.54,7.73,7.92,8.11,8.30,8.50],
    -25.5: [7.06,7.25,7.44,7.63,7.82,8.01,8.20,8.39],
    -27.0: [7.14,7.33,7.52,7.71,7.90,8.09,8.28,8.47],
}

# --- binary classes ---
hw_vir = [
    (7.49,67.6),(8.19,32.2),(4.73,16.7),(7.38,7.8),(8.36,0.3),
    (0.30,79.2),(9.36,78.5),(8.12,72.8),(21.72,66.7),(23.48,64.9),(22.43,62.3),(23.25,58.6),(22.70,55.1),(23.77,51.4),
    (4.16,51.2),(20.75,52.2),(21.51,47.5),(20.43,58.9),(20.41,42.9),(21.34,40.6),(21.29,41.7),(20.58,35.9),(20.65,34.3),
    (20.75,32.2),(20.54,24.4),(20.08,14.1),(22.57,25.1),(1.25,23.1),(23.46,12.7),(20.07,4.7),
    (18.51,43.6),(15.52,38.2),(19.38,26.5),(18.52,27.3),(16.48,18.2),(18.88,14.9),(19.64,11.1),(18.80,12.0),(18.66,7.4),
    (18.64,5.2),(19.67,4.5),(19.12,-0.4),
    (6.45,-2.7),(8.62,-7.9),(7.47,-18.4),(7.39,-21.1),(8.39,-27.7),(5.31,-19.1),(5.29,-23.1),
    (21.02,-14.1),(20.42,-11.8),(13.66,-2.0),(18.86,-13.6),(18.91,-21.5),
]

ea_type = [
    (11.20,52.6),(8.51,51.4),(8.42,46.2),(9.04,43.8),(6.56,42.0),(6.22,37.1),(4.55,35.1),(4.30,31.5),(4.96,23.0),(4.37,22.4),
    (7.11,10.4),(8.01,9.3),(6.66,2.3),
    (23.29,83.0),(5.21,73.3),(23.15,61.7),(22.95,60.1),(22.44,56.5),(22.50,51.6),(22.09,50.7),(21.97,49.8),(1.14,48.8),
    (0.77,51.0),(21.55,44.5),(20.93,47.3),(19.65,55.7),(19.76,53.35),(20.00,48.6),(20.38,46.6),(18.71,49.2),(20.94,36.3),
    (20.62,36.4),(20.91,32.4),(19.44,34.6),(19.63,31.6),(20.20,28.3),(20.59,26.6),(0.58,39.1),(22.27,11.2),(3.76,9.7),
    (16.01,63.7),(13.50,52.2),(16.32,47.9),(14.99,48.2),(17.19,32.3),(14.15,30.0),(19.12,30.0),(19.03,29.1),(19.34,27.6),
    (15.98,22.0),(18.17,17.7),(15.86,13.1),(19.22,12.4),(18.53,10.4),(18.99,7.9),(18.51,5.4),(19.58,2.3),
    (10.26,-3.1),(8.07,-14.7),(6.19,-19.1),(1.04,-5.8),
    (17.96,-3.5),(17.78,-3.1),(18.36,-12.4),(18.22,-21.3),(17.21,-25.4),(18.75,-17.3),
]

eb_type = [
    (6.83,20.4),(6.87,17.8),(7.24,8.2),(7.67,4.4),(5.29,1.3),(7.89,0.3),
    (5.39,54.2),(1.28,57.8),(2.31,48.8),(2.03,47.0),(22.70,46.7),(21.99,48.8),(23.72,41.8),(17.21,73.4),(21.12,34.3),
    (20.73,27.1),(20.66,25.1),(20.72,23.4),(20.11,21.3),(3.71,1.3),(3.78,25.0),(3.22,37.7),
    (12.80,73.8),(12.15,67.1),(12.02,66.6),(14.48,49.4),(18.52,37.2),(12.03,27.8),(18.60,21.7),(13.01,16.7),(13.04,8.4),
    (17.90,8.1),(17.41,7.6),
    (10.95,-7.5),(7.59,-3.8),(7.59,-5.7),(6.74,-8.1),(11.10,-15.6),(10.12,-18.1),(8.27,-19.5),(8.28,-26.4),(7.86,-25.5),
    (5.33,-14.7),(3.42,-7.2),(2.80,-6.9),(1.03,-19.7),(23.18,-7.0),(21.42,-22.6),(20.27,-6.8),
    (18.92,-11.0),(18.94,-17.1),(17.08,-22.4),(16.98,-27.2),(18.76,-17.6),
]

ew_type = [
    (9.94,75.1),(11.85,57.5),(9.83,53.6),(8.47,43.5),(9.57,34.4),(6.77,25.6),(6.73,21.8),(7.67,0.6),
    (5.79,72.5),(1.27,50.7),(21.19,48.4),(3.16,37.7),(2.66,40.4),(21.98,32.2),(19.42,34.4),(19.90,17.8),(22.07,16.6),
    (20.17,6.0),(20.15,2.0),(3.55,2.3),
    (16.35,50.1),(12.58,28.7),(16.79,23.2),(17.38,18.5),(12.43,19.0),(14.89,-1.2),
    (7.29,-1.6),(7.40,-3.1),(7.58,-8.3),(7.92,-14.1),(10.02,-20.2),(10.08,-23.4),(10.93,-23.3),(9.73,-25.5),(8.55,-19.5),
    (4.31,-14.5),(3.36,-3.3),(22.19,-22.3),(13.09,-14.1),
]

ell_type = [
    (10.45,71.6),(11.90,67.0),(6.02,58.6),(5.67,54.9),(8.83,53.8),(5.99,46.7),(5.43,40.6),(5.09,39.0),(10.18,38.5),(8.29,37.4),
    (7.83,29.2),(5.18,30.3),(4.99,30.7),(6.00,27.9),(11.93,27.8),(10.28,25.1),(8.26,24.6),(7.81,23.1),(6.76,15.5),(6.26,21.2),
    (9.63,19.6),(7.59,17.7),(8.22,16.0),(7.32,14.6),(11.88,11.7),(7.95,7.6),(7.67,3.0),(4.87,1.3),
    (23.54,80.4),(22.71,78.6),(8.61,79.8),(7.36,79.2),(5.86,81.2),(4.66,77.1),(23.00,71.9),(22.74,69.3),(6.36,69.3),(5.94,67.6),
    (21.98,66.6),(23.87,63.5),(23.50,59.8),(5.48,59.8),(1.25,58.9),(4.23,59.5),(22.62,54.2),(23.42,53.1),(23.36,51.9),(23.27,51.0),
    (23.07,50.1),(22.93,50.6),(23.21,49.5),(23.01,49.3),(22.37,50.7),(0.30,51.6),(0.15,48.4),(1.80,51.3),(1.70,51.6),(1.52,48.8),
    (1.44,48.2),(2.50,50.4),(3.11,46.9),(2.57,45.4),(22.98,46.7),(0.52,45.0),(21.52,51.9),(21.53,44.4),(20.91,47.2),(19.75,51.3),
    (13.00,83.5),(14.28,79.8),(17.85,75.0),(16.00,72.4),(18.19,67.1),(18.83,59.6),(18.72,56.0),(18.90,51.4),(19.50,44.4),(21.31,41.9),
    (22.19,41.7),(22.33,40.2),(21.93,41.2),(21.98,37.4),(22.37,33.5),(22.31,31.4),(21.80,34.0),(21.66,34.0),(20.72,39.5),(20.62,38.7),
    (21.04,36.7),(21.21,33.0),(21.09,31.9),(21.38,31.6),(19.93,31.1),(20.72,29.1),(21.08,27.8),(20.85,26.1),(20.63,22.6),(19.67,24.8),
    (20.00,36.9),(19.87,39.0),(20.12,17.8),(20.43,20.1),(20.59,19.1),(20.90,18.6),(20.64,17.8),(19.95,14.1),(21.47,20.8),(21.39,14.6),
    (23.31,28.8),(23.58,39.6),(23.63,43.2),(0.95,39.7),(0.86,26.1),(0.75,20.6),(22.32,7.0),(20.49,1.3),(2.89,25.9),(2.86,40.4),
    (15.63,63.1),(12.84,63.2),(12.03,59.2),(15.17,54.7),(13.80,56.3),(18.43,48.2),(18.32,47.0),(18.47,46.7),(15.24,44.7),(17.81,46.3),
    (18.21,43.1),(18.11,41.8),(18.65,39.3),(18.35,39.1),(18.42,38.0),(17.48,43.4),(17.61,40.8),(17.08,41.3),(16.97,41.0),(17.46,36.9),
    (17.06,35.2),(16.53,38.0),(17.29,30.0),(15.88,33.8),(13.93,37.6),(18.98,30.0),(18.76,27.3),(18.37,27.3),(16.72,27.8),(16.35,28.7),
    (16.22,27.6),(17.21,26.3),(16.67,24.8),(17.00,22.4),(17.65,20.6),(15.47,21.1),(14.31,18.4),(13.24,14.9),(13.67,12.7),(13.91,4.1),
    (17.97,14.7),(17.20,6.4),(18.75,14.4),(19.63,12.2),(18.92,11.2),(18.92,8.4),(19.38,5.4),(19.89,3.0),(16.73,0.2),
    (10.40,-5.1),(6.84,-2.3),(8.23,-4.5),(7.70,-5.3),(8.27,-10.6),(9.60,-12.5),(8.10,-13.2),(8.20,-14.5),(11.54,-21.6),(10.37,-27.4),
    (7.93,-17.5),(7.92,-18.5),(7.70,-18.0),(8.16,-24.0),(8.43,-25.7),(5.70,-16.6),(5.68,-23.4),(5.67,-27.4),(4.96,-5.6),
    (1.83,-7.0),(22.69,-2.1),(21.16,-21.7),(20.53,-25.2),(19.77,-27.6),(20.45,-12.4),(20.39,-7.7),
    (16.60,-1.7),(14.02,-8.2),(14.28,-11.4),(17.15,-15.6),(18.73,-17.4),(18.95,-18.2),
]

gw_candidates = [
    (11.20,52.6),(6.22,37.1),(4.87,1.3),(5.48,59.8),(1.25,58.9),(23.87,63.5),(23.58,39.6),(0.86,26.1),
    (21.53,44.4),(20.91,47.2),(19.65,55.7),(19.76,53.35),(19.44,34.6),(20.12,17.8),(16.01,63.7),(16.32,47.9),
    (18.21,43.1),(17.06,35.2),(15.98,22.0),(19.77,-27.6),(17.15,-15.6),(18.73,-17.4),(18.22,-21.3),(17.21,-25.4),
]

ra_hour_labels = ["10", "8", "6", "4", "2", "0", "22", "20", "18", "16", "14"]
band_half_width = 10.0   # galactic latitude |b| < 10 deg


def to_frame(points):
    df = pd.DataFrame(points, columns=["ra", "dec"])
    ra_deg = df["ra"].to_numpy() * 15.0
    ra_deg = np.where(ra_deg > 180, ra_deg - 360, ra_deg)
    df["x"] = -np.radians(ra_deg)   # RA grows to the left
    df["y"] = np.radians(df["dec"])
    return df


sns.set_theme(style="white", color_codes=False)
plt.rcParams["font.family"] = ["Liberation Serif", "DejaVu Serif"]
plt.rcParams["mathtext.fontset"] = "custom"
plt.rcParams["mathtext.rm"] = "Liberation Serif"
plt.rcParams["mathtext.it"] = "Liberation Serif:italic"
plt.rcParams["axes.axisbelow"] = "line"
for key in ["text.color", "axes.labelcolor", "xtick.color", "ytick.color"]:
    plt.rcParams[key] = "black"

fig = plt.figure(figsize=(2973 / 200, 1789 / 200), dpi=200)
ax = fig.add_axes([0.05775, 0.16574, 0.93260, 0.77373], projection="mollweide")

# galactic plane band, |b| < 10 deg
x_grid = np.linspace(-np.pi, np.pi, 2001)
alpha = -x_grid
ra_gp, dec_gp = np.radians(192.85948), np.radians(27.12825)
A = np.sin(dec_gp)
B = np.cos(dec_gp) * np.cos(alpha - ra_gp)
R = np.hypot(A, B)
phase = np.arctan2(B, A)
sb = np.sin(np.radians(band_half_width))
dec_lo = np.arcsin(-sb / R) - phase
dec_hi = np.arcsin(sb / R) - phase
ax.fill_between(x_grid, dec_lo, dec_hi, color="tab:purple", alpha=0.5, linewidth=0, zorder=1)

clump_points = [(ra, dec) for rows in (bulge_rows, puppis_rows)
                for dec, ras in rows.items() for ra in ras]
sample = to_frame(sample_dec_m27_m15 + sample_dec_m15_0 + sample_dec_0_15 + sample_dec_15_30
                  + sample_dec_30_45 + sample_dec_45_60 + sample_dec_60_90
                  + sample_plane_crowded + clump_points)
sns.scatterplot(data=sample, x="x", y="y", color="gray", s=11, linewidth=0,
                label="variable sample", legend=False, ax=ax, zorder=2)

classes = [
    (hw_vir, "#0000ff", "HW Vir binary"),
    (ea_type, "#ff0000", "EA-type binary"),
    (eb_type, "#008000", "EB-type binary"),
    (ew_type, "#bfbf00", "EW-type binary"),
    (ell_type, "#00bfbf", "ELL-type binary"),
]
for pts, col, lab in classes:
    sns.scatterplot(data=to_frame(pts), x="x", y="y", color=col, s=57, linewidth=0,
                    label=lab, legend=False, ax=ax, zorder=3)

gw = to_frame(gw_candidates)
ax.scatter(gw["x"], gw["y"], s=210, facecolors="none", edgecolors="black",
           linewidths=2.6, label="potential GW candidates", zorder=4)

ax.grid(True, color="#b0b0b0", linewidth=0.8)
ax.spines["geo"].set_edgecolor("black")
ax.spines["geo"].set_linewidth(1.2)
ax.set_xticks(np.radians(np.arange(-150, 151, 30)))
ax.set_xticklabels([h + r"$^{\mathrm{h}}$" for h in ra_hour_labels])
ax.tick_params(labelsize=14.5)

ax.set_title("Sky distribution", fontsize=29.5, pad=9)
ax.set_xlabel("Ra", fontsize=28, labelpad=6)
ax.set_ylabel("Dec", fontsize=28, labelpad=7)

handles, labels = ax.get_legend_handles_labels()
fig.legend(handles, labels, loc="lower center", bbox_to_anchor=(0.5108, 0.019),
           borderaxespad=0, ncol=4, fontsize=21.5, frameon=True, handletextpad=0.7,
           columnspacing=1.55, labelspacing=0.35, borderpad=0.4, handlelength=1.7)

fig.savefig("out.png", dpi=200)
